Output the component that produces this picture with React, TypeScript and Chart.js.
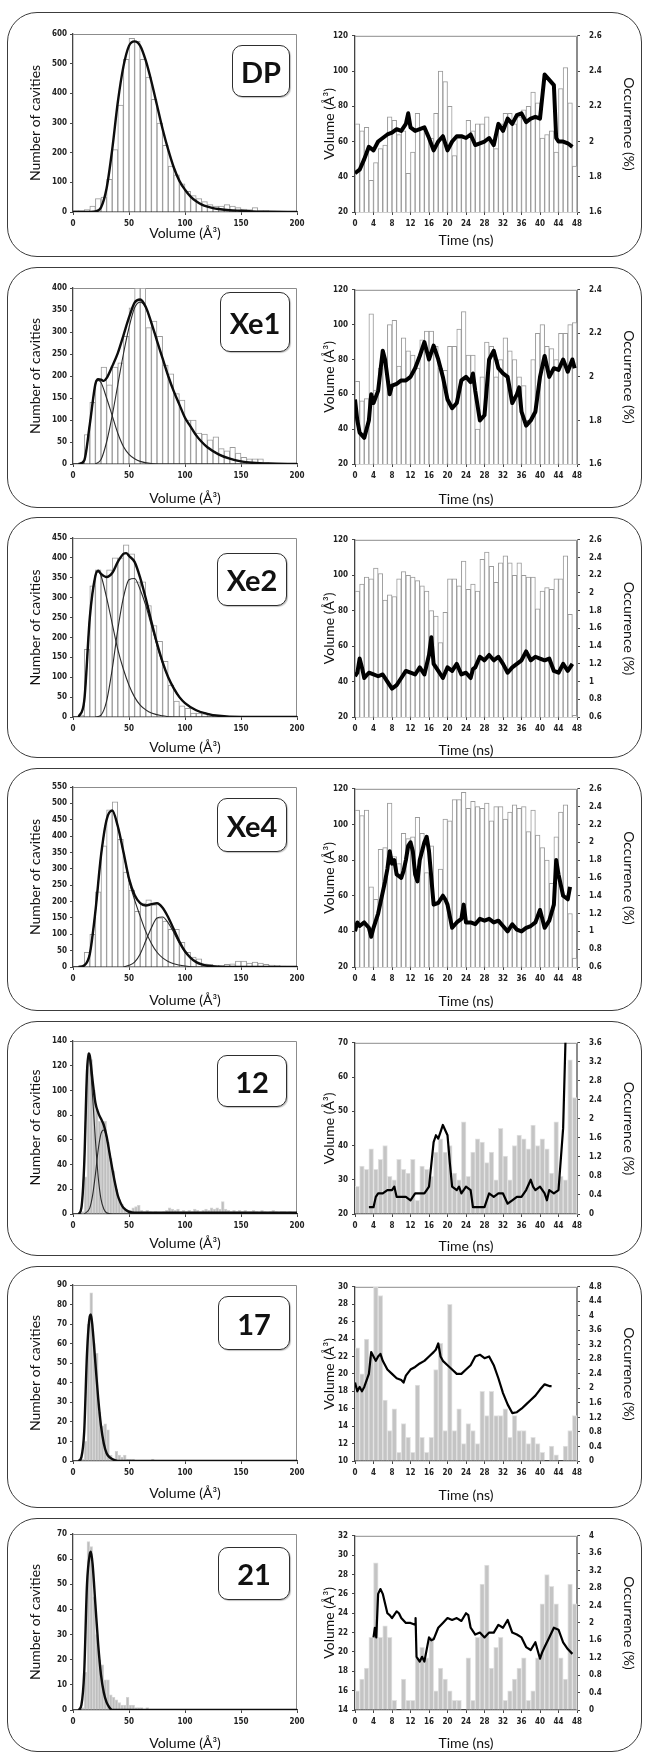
import React, { useEffect, useRef } from "react";
import { Chart, registerables } from "chart.js";
Chart.register(...registerables);

// ---------------- categories ----------------
const BINS_5 = [2.5, 7.5, 12.5, 17.5, 22.5, 27.5, 32.5, 37.5, 42.5, 47.5, 52.5, 57.5, 62.5, 67.5, 72.5, 77.5, 82.5, 87.5, 92.5, 97.5, 102.5, 107.5, 112.5, 117.5, 122.5, 127.5, 132.5, 137.5, 142.5, 147.5, 152.5, 157.5, 162.5, 167.5, 172.5, 177.5, 182.5, 187.5, 192.5, 197.5];
const BINS_2_5 = [1.25, 3.75, 6.25, 8.75, 11.25, 13.75, 16.25, 18.75, 21.25, 23.75, 26.25, 28.75, 31.25, 33.75, 36.25, 38.75, 41.25, 43.75, 46.25, 48.75, 51.25, 53.75, 56.25, 58.75, 61.25, 63.75, 66.25, 68.75, 71.25, 73.75, 76.25, 78.75, 81.25, 83.75, 86.25, 88.75, 91.25, 93.75, 96.25, 98.75, 101.25, 103.75, 106.25, 108.75, 111.25, 113.75, 116.25, 118.75, 121.25, 123.75, 126.25, 128.75, 131.25, 133.75, 136.25, 138.75, 141.25, 143.75, 146.25, 148.75, 151.25, 153.75, 156.25, 158.75, 161.25, 163.75, 166.25, 168.75, 171.25, 173.75, 176.25, 178.75, 181.25, 183.75, 186.25, 188.75, 191.25, 193.75, 196.25, 198.75];
const TIME_BINS = [0.5, 1.5, 2.5, 3.5, 4.5, 5.5, 6.5, 7.5, 8.5, 9.5, 10.5, 11.5, 12.5, 13.5, 14.5, 15.5, 16.5, 17.5, 18.5, 19.5, 20.5, 21.5, 22.5, 23.5, 24.5, 25.5, 26.5, 27.5, 28.5, 29.5, 30.5, 31.5, 32.5, 33.5, 34.5, 35.5, 36.5, 37.5, 38.5, 39.5, 40.5, 41.5, 42.5, 43.5, 44.5, 45.5, 46.5, 47.5];

// ---------------- DP ----------------
const DP_HIST = [5, 5, 8, 20, 45, 50, 110, 210, 360, 515, 585, 575, 515, 455, 380, 300, 225, 155, 125, 95, 70, 55, 45, 35, 25, 20, 20, 25, 20, 15, 10, 8, 15, 5, 5, 3, 3, 2, 2, 2];
const DP_FIT_X = [0, 10, 20, 25, 30, 35, 40, 45, 50, 55, 60, 65, 70, 75, 80, 85, 90, 95, 100, 105, 110, 115, 120, 125, 130, 140, 150, 160, 175, 200];
const DP_FIT_Y = [0, 0, 2, 15, 80, 210, 370, 490, 560, 575, 560, 510, 440, 360, 280, 210, 150, 105, 75, 52, 36, 25, 18, 13, 10, 6, 4, 2, 1, 0];
const DP_OCC = [2.1, 2.06, 2.08, 1.78, 1.88, 1.96, 1.98, 2.14, 2.12, 2.04, 2.06, 1.82, 1.94, 2.16, 2.08, 2.05, 2.02, 2.16, 2.4, 2.34, 2.2, 1.92, 2.02, 2.02, 2.12, 2.06, 2.1, 2.1, 2.14, 2.0, 1.96, 2.1, 2.16, 2.16, 2.1, 2.14, 2.18, 2.2, 2.28, 2.22, 2.02, 2.04, 2.06, 1.94, 2.3, 2.42, 2.22, 1.86];
const DP_T = [0, 1, 2, 3, 4, 5, 6, 7, 8, 9, 10, 11, 11.5, 12, 13, 14, 15, 16, 17, 18, 19, 20, 21, 22, 23, 24, 25, 26, 27, 28, 29, 30, 31, 32, 33, 34, 35, 36, 37, 38, 39, 40, 41, 42, 43, 43.5, 44, 45, 46, 47];
const DP_V = [42, 44, 50, 57, 55, 60, 62, 64, 65, 67, 66, 70, 76, 68, 66, 67, 68, 62, 55, 60, 63, 55, 60, 63, 63, 62, 64, 58, 59, 60, 62, 58, 70, 66, 73, 70, 75, 76, 71, 73, 74, 73, 98, 95, 92, 62, 60, 60, 59, 57];

// ---------------- Xe1 ----------------
const XE1_HIST = [0, 0, 67, 140, 190, 220, 180, 220, 230, 290, 355, 400, 400, 310, 325, 290, 225, 205, 160, 145, 100, 100, 70, 68, 55, 62, 35, 30, 38, 25, 15, 12, 12, 12, 3, 1, 1, 1, 1, 1];
const XE1_C1_X = [5, 10, 15, 20, 22.5, 25, 30, 35, 40, 45, 50, 55, 60, 70, 80, 200];
const XE1_C1_Y = [0, 8, 90, 180, 190, 185, 150, 110, 70, 40, 22, 12, 6, 1, 0, 0];
const XE1_C2_X = [20, 25, 30, 35, 40, 45, 50, 55, 60, 65, 70, 75, 80, 85, 90, 95, 100, 105, 110, 115, 120, 130, 140, 150, 160, 175, 200];
const XE1_C2_Y = [0, 10, 50, 110, 180, 250, 310, 355, 368, 355, 320, 280, 240, 200, 165, 135, 105, 85, 65, 50, 38, 22, 12, 6, 3, 1, 0];
const XE1_T_X = [5, 10, 15, 20, 22.5, 25, 27.5, 30, 35, 40, 45, 50, 55, 60, 65, 70, 75, 80, 85, 90, 95, 100, 105, 110, 115, 120, 130, 140, 150, 160, 175, 200];
const XE1_T_Y = [0, 8, 90, 182, 193, 192, 189, 195, 222, 252, 292, 333, 367, 374, 357, 321, 280, 240, 200, 165, 135, 105, 85, 65, 50, 38, 22, 12, 6, 3, 1, 0];
const XE1_OCC = [1.98, 1.89, 1.9, 2.29, 1.94, 2.04, 2.08, 2.24, 2.26, 2.05, 2.18, 2.12, 2.1, 2.04, 2.17, 2.21, 2.21, 2.14, 2.04, 2.03, 2.14, 2.14, 2.22, 2.3, 2.1, 2.1, 1.76, 2.0, 2.16, 2.14, 2.0, 2.08, 2.18, 2.12, 2.08, 2.0, 1.96, 1.8, 2.08, 2.2, 2.24, 2.14, 2.13, 2.08, 2.2, 2.2, 2.24, 2.25];
const XE1_T = [0, 0.5, 1, 2, 3, 3.5, 4, 5, 6, 6.5, 7, 7.5, 8, 9, 10, 11, 12, 13, 14, 15, 16, 17, 18, 19, 20, 21, 22, 23, 24, 25, 25.5, 26, 27, 28, 29, 30, 31, 32, 33, 34, 35, 35.5, 36, 37, 38, 39, 40, 41, 42, 43, 44, 45, 46, 47, 47.5];
const XE1_V = [57, 45, 38, 35, 45, 60, 55, 62, 85, 80, 70, 60, 65, 66, 68, 68, 70, 75, 82, 90, 80, 88, 80, 70, 57, 52, 55, 68, 70, 67, 72, 62, 45, 48, 80, 85, 75, 72, 70, 55, 60, 64, 50, 42, 45, 50, 70, 82, 70, 75, 74, 80, 73, 80, 75];

// ---------------- Xe2 ----------------
const XE2_HIST = [0, 5, 170, 330, 370, 355, 370, 400, 400, 433, 410, 340, 340, 280, 230, 190, 140, 80, 40, 28, 22, 10, 10, 8, 5, 3, 0, 0, 0, 0, 0, 0, 0, 0, 0, 0, 0, 0, 0, 0];
const XE2_C1_X = [5, 10, 15, 20, 22.5, 25, 30, 35, 40, 45, 50, 55, 60, 65, 70, 80, 90, 200];
const XE2_C1_Y = [0, 40, 250, 355, 365, 355, 300, 235, 170, 120, 80, 50, 30, 18, 10, 3, 0, 0];
const XE2_C2_X = [20, 25, 30, 35, 40, 45, 50, 55, 60, 65, 70, 75, 80, 85, 90, 95, 100, 110, 120, 130, 150, 200];
const XE2_C2_Y = [0, 5, 40, 120, 220, 300, 345, 348, 320, 280, 230, 180, 135, 100, 72, 50, 35, 17, 8, 3, 0, 0];
const XE2_T_X = [5, 10, 15, 20, 22.5, 25, 30, 35, 40, 45, 47.5, 50, 55, 60, 65, 70, 75, 80, 85, 90, 95, 100, 110, 120, 130, 150, 200];
const XE2_T_Y = [0, 40, 250, 355, 368, 360, 352, 362, 390, 410, 412, 405, 390, 350, 298, 240, 185, 138, 100, 72, 50, 35, 17, 8, 3, 0, 0];
const XE2_OCC = [2.02, 2.1, 2.18, 2.16, 2.28, 2.22, 1.92, 1.98, 1.96, 2.16, 2.24, 2.2, 2.18, 2.14, 2.08, 2.02, 1.8, 1.74, 1.44, 1.78, 2.16, 2.16, 2.08, 2.36, 2.04, 2.1, 2.02, 2.38, 2.46, 2.3, 2.12, 2.34, 2.42, 2.34, 2.2, 2.34, 2.2, 2.18, 2.18, 1.82, 2.02, 2.06, 2.04, 2.16, 2.16, 2.42, 1.76, 0.62];
const XE2_T = [0, 0.5, 1, 1.5, 2, 3, 4, 5, 6, 7, 8, 9, 10, 11, 12, 13, 14, 15, 16, 16.5, 17, 18, 19, 20, 21, 22, 23, 24, 25, 25.5, 26, 27, 28, 29, 30, 31, 32, 33, 34, 35, 36, 37, 38, 39, 40, 41, 42, 43, 44, 45, 46, 47];
const XE2_V = [43, 45, 53, 48, 42, 45, 44, 43, 44, 40, 36, 38, 42, 46, 45, 44, 48, 44, 55, 65, 50, 46, 42, 48, 46, 50, 44, 45, 42, 47, 48, 54, 52, 55, 52, 54, 50, 45, 48, 50, 52, 57, 52, 54, 53, 52, 53, 46, 45, 50, 46, 50];

// ---------------- Xe4 ----------------
const XE4_HIST = [0, 0, 45, 100, 230, 370, 480, 505, 390, 290, 235, 170, 195, 205, 190, 150, 140, 115, 115, 75, 45, 30, 25, 10, 8, 5, 5, 8, 10, 18, 18, 12, 15, 12, 8, 6, 5, 3, 1, 1];
const XE4_C1_X = [5, 10, 15, 20, 25, 30, 35, 40, 45, 50, 55, 60, 65, 70, 75, 80, 85, 90, 100, 110, 200];
const XE4_C1_Y = [0, 5, 40, 170, 340, 450, 478, 430, 350, 265, 205, 155, 108, 72, 45, 28, 17, 10, 3, 0, 0];
const XE4_C2_X = [45, 50, 55, 60, 65, 70, 75, 80, 85, 90, 95, 100, 105, 110, 115, 120, 130, 140, 200];
const XE4_C2_Y = [0, 5, 15, 40, 80, 120, 150, 153, 135, 105, 72, 45, 27, 15, 8, 4, 1, 0, 0];
const XE4_T_X = [5, 10, 15, 20, 25, 30, 35, 40, 45, 50, 55, 60, 65, 70, 75, 80, 85, 90, 95, 100, 105, 110, 115, 120, 130, 140, 200];
const XE4_T_Y = [0, 5, 40, 170, 340, 450, 478, 430, 352, 270, 220, 195, 188, 192, 195, 181, 152, 115, 78, 48, 28, 15, 8, 4, 1, 0, 0];
const XE4_OCC = [2.36, 2.3, 2.36, 1.5, 1.36, 1.92, 1.94, 2.44, 1.84, 1.76, 2.1, 2.04, 2.06, 2.28, 2.1, 1.66, 1.96, 1.3, 1.7, 2.26, 2.24, 2.48, 2.48, 2.56, 2.38, 2.46, 2.4, 2.38, 2.44, 2.24, 2.4, 2.4, 2.26, 2.34, 2.42, 2.38, 2.4, 2.12, 2.36, 2.08, 1.94, 1.8, 1.54, 2.06, 2.34, 2.42, 1.2, 0.7];
const XE4_T = [0, 0.5, 1, 2, 3, 3.5, 4, 5, 6, 6.5, 7, 7.5, 8, 8.5, 9, 10, 10.5, 11, 11.5, 12, 12.5, 13, 13.5, 14, 15, 15.5, 16, 16.5, 17, 18, 19, 19.5, 20, 21, 22, 23, 23.5, 24, 25, 26, 27, 28, 29, 30, 31, 32, 33, 34, 35, 36, 37, 38, 39, 40, 41, 42, 43, 43.5, 44, 45, 46, 46.5];
const XE4_V = [40, 45, 43, 45, 42, 37, 42, 50, 62, 68, 75, 85, 78, 80, 72, 70, 74, 80, 88, 90, 85, 72, 68, 80, 90, 93, 85, 70, 55, 56, 60, 58, 55, 42, 45, 47, 55, 45, 45, 44, 47, 46, 47, 45, 46, 43, 40, 44, 41, 40, 42, 43, 45, 52, 42, 46, 55, 80, 72, 60, 58, 65];

// ---------------- 12 ----------------
const S12_HIST = [0, 0, 0, 2, 30, 130, 125, 100, 85, 75, 75, 75, 58, 45, 35, 20, 12, 8, 5, 3, 3, 5, 6, 7, 3, 2, 3, 2, 1, 2, 1, 1, 2, 3, 5, 4, 3, 4, 2, 3, 2, 3, 2, 4, 3, 2, 3, 4, 3, 5, 4, 5, 4, 10, 4, 3, 2, 3, 2, 3, 2, 3, 2, 2, 3, 2, 1, 3, 2, 1, 2, 3, 2, 1, 2, 2, 1, 2, 1, 1];
const S12_C1_X = [5, 7.5, 10, 12.5, 14, 15, 17.5, 20, 22.5, 25, 27.5, 30, 35, 200];
const S12_C1_Y = [0, 5, 40, 115, 128, 125, 95, 60, 30, 12, 4, 1, 0, 0];
const S12_C2_X = [10, 15, 17.5, 20, 22.5, 25, 27.5, 30, 32.5, 35, 37.5, 40, 42.5, 45, 50, 55, 200];
const S12_C2_Y = [0, 5, 15, 32, 52, 65, 68, 62, 50, 37, 25, 15, 9, 5, 1, 0, 0];
const S12_T_X = [5, 7.5, 10, 12.5, 14, 15, 17.5, 20, 22.5, 25, 27.5, 30, 32.5, 35, 37.5, 40, 42.5, 45, 50, 55, 60, 100, 150, 200];
const S12_T_Y = [0, 5, 40, 115, 130, 128, 108, 90, 82, 77, 72, 63, 50, 37, 25, 15, 9, 5, 2, 1, 1, 1, 1, 1];
const S12_OCC = [0.58, 1.01, 0.94, 1.37, 0.94, 1.15, 1.44, 0.79, 0.72, 1.15, 0.94, 0.86, 1.15, 0.29, 1.01, 0.94, 0.79, 1.3, 1.58, 1.3, 1.44, 0.86, 0.72, 1.94, 0.79, 1.3, 1.58, 1.51, 1.08, 1.3, 0.72, 1.8, 1.22, 0.72, 1.44, 1.66, 1.58, 1.37, 1.87, 1.44, 1.58, 1.37, 0.86, 1.94, 0.79, 0.72, 3.24, 2.45];
const S12_T = [3, 4, 4.5, 5, 6, 7, 8, 8.5, 9, 10, 11, 12, 13, 14, 15, 15.5, 16, 17, 17.5, 18, 18.5, 19, 20, 20.5, 21, 22, 22.5, 23, 24, 25, 25.5, 26, 27, 28, 29, 30, 31, 32, 33, 34, 35, 36, 37, 38, 38.5, 39, 40, 41, 41.5, 42, 43, 44, 45, 45.5, 45.8];
const S12_V = [22, 22, 25, 26, 26, 27, 27, 28, 25, 25, 25, 24, 26, 26, 26, 27, 28, 41, 43, 42, 44, 46, 43, 35, 28, 27, 28, 26, 28, 27, 22, 22, 22, 22, 26, 25, 26, 26, 23, 24, 25, 25, 27, 30, 28, 27, 28, 26, 24, 27, 26, 27, 45, 70, 75];

// ---------------- 17 ----------------
const S17_HIST = [0, 0, 0, 1, 10, 70, 86, 60, 55, 25, 18, 19, 16, 3, 1, 5, 3, 2, 3, 1, 1, 1, 0, 0, 0, 0, 0, 0, 1, 0, 0, 0, 0, 0, 0, 0, 0, 0, 0, 0, 0, 0, 0, 0, 0, 0, 0, 0, 0, 0, 0, 0, 0, 0, 0, 0, 0, 0, 0, 0, 0, 0, 0, 0, 0, 0, 0, 0, 0, 0, 0, 0, 0, 0, 0, 0, 0, 0, 0, 0];
const S17_FIT_X = [5, 7.5, 10, 12.5, 15, 16, 17.5, 20, 22.5, 25, 27.5, 30, 32.5, 35, 40, 200];
const S17_FIT_Y = [0, 2, 15, 55, 74, 75, 68, 50, 32, 18, 9, 4, 2, 1, 0, 0];
const S17_OCC = [3.12, 2.4, 3.36, 2.88, 4.8, 4.56, 1.68, 0.84, 1.44, 0.24, 1.03, 0.65, 0.24, 2.09, 0.65, 0.24, 0.65, 2.52, 3.24, 0.84, 4.32, 0.84, 1.44, 0.48, 1.03, 0.84, 0.48, 1.92, 1.25, 1.92, 1.25, 1.25, 1.44, 0.65, 1.25, 0.84, 0.84, 0.48, 0.65, 0.48, 0.24, 0, 0.41, 0.17, 0, 0.41, 0.84, 1.25];
const S17_T = [0, 0.5, 1, 1.5, 2, 3, 3.5, 4, 4.5, 5, 5.5, 6, 7, 8, 9, 10, 10.5, 11, 12, 13, 14, 15, 16, 17, 17.5, 18, 18.5, 19, 20, 21, 22, 23, 24, 25, 26, 27, 28, 29, 30, 31, 32, 33, 34, 35, 36, 37, 38, 39, 40, 41, 42, 42.5];
const S17_V = [19, 18, 18.5, 18, 18.5, 20, 22.5, 22, 21.5, 22, 22.3, 21.5, 20.5, 20, 19.5, 19.3, 19, 19.8, 20.5, 20.8, 21.2, 21.5, 22, 22.5, 22.8, 23.5, 22, 21.5, 21, 20.5, 20, 20, 20.5, 21, 22, 22.2, 21.8, 22, 21, 19.5, 17.8, 16.5, 15.5, 15.6, 16, 16.5, 17, 17.5, 18.2, 18.8, 18.6, 18.6];

// ---------------- 21 ----------------
const S21_HIST = [0, 0, 0, 1, 15, 67, 65, 45, 30, 20, 18, 12, 12, 6, 5, 4, 3, 2, 2, 5, 2, 2, 1, 1, 1, 0, 1, 0, 0, 0, 0, 0, 0, 0, 0, 0, 0, 0, 0, 0, 0, 0, 0, 0, 0, 0, 0, 0, 0, 0, 0, 0, 0, 0, 0, 0, 0, 0, 0, 0, 0, 0, 0, 0, 0, 0, 0, 0, 0, 0, 0, 0, 0, 0, 0, 0, 0, 0, 0, 0];
const S21_FIT_X = [5, 7.5, 10, 12.5, 15, 16, 17.5, 20, 22.5, 25, 27.5, 30, 32.5, 35, 200];
const S21_FIT_Y = [0, 2, 15, 50, 62, 63, 58, 42, 26, 14, 7, 3, 1, 0, 0];
const S21_OCC = [0.44, 0.71, 0.96, 1.67, 3.38, 1.67, 1.93, 1.67, 0.22, 0, 0.71, 0.22, 0.22, 1.2, 1.44, 1.2, 1.67, 0.44, 0.96, 0.71, 0.44, 0.22, 0.22, 0, 1.2, 0.22, 1.67, 2.89, 3.33, 0.96, 1.44, 1.67, 0.22, 0.44, 0.71, 0.96, 1.2, 0.22, 0.44, 1.2, 2.44, 3.11, 2.84, 2.44, 1.2, 0.71, 2.89, 2.44];
const S21_T = [4, 4.3, 4.6, 5, 5.5, 6, 6.5, 7, 7.5, 8, 9, 9.5, 10, 11, 12, 13, 13.1, 13.3, 14, 14.5, 15, 16, 16.5, 17, 18, 19, 20, 21, 22, 23, 24, 24.5, 25, 26, 27, 28, 29, 30, 31, 32, 33, 34, 35, 36, 37, 38, 39, 40, 40.5, 41, 42, 43, 44, 45, 46, 47];
const S21_V = [21.5, 22.5, 21.5, 26, 26.5, 26, 25, 24, 23.8, 23.5, 24.2, 24, 23.5, 23, 23, 22.8, 23.5, 19.5, 19, 19.5, 19, 21.5, 21.2, 21.3, 22.5, 23, 23.5, 23.3, 23.5, 23.2, 24, 23.8, 22.5, 21.8, 22, 21.5, 22, 22, 22.8, 22.5, 23.3, 22, 21.8, 21.5, 20.5, 20.2, 21, 19.3, 20, 20.5, 21.5, 22.5, 22.3, 21, 20.3, 19.8];

// ---------------- labels ----------------
const LABELS = ["DP", "Xe1", "Xe2", "Xe4", "12", "17", "21"];

// ---------------- configuration ----------------
type Curve = { x: number[]; y: number[]; main: boolean };
type Layout = {
  boxTop: number; boxBottom: number; plotTop: number; plotBottom: number;
  titleL: number; titleR: number; lab: [number, number, number, number];
};
type Row = {
  label: string; L: Layout; gray: boolean;
  bins: number[]; hist: number[]; curves: Curve[]; yMax: number; yStep: number;
  occ: number[]; t: number[]; v: number[];
  vMin: number; vMax: number; vStep: number; oMin: number; oMax: number; oStep: number;
};

const ROWS: Row[] = [
  {
    label: LABELS[0], gray: false,
    L: { boxTop: 12, boxBottom: 257, plotTop: 34, plotBottom: 212, titleL: 233, titleR: 240, lab: [232, 45, 58, 52] },
    bins: BINS_5, hist: DP_HIST, curves: [{ x: DP_FIT_X, y: DP_FIT_Y, main: true }], yMax: 600, yStep: 100,
    occ: DP_OCC, t: DP_T, v: DP_V, vMin: 20, vMax: 120, vStep: 20, oMin: 1.6, oMax: 2.6, oStep: 0.2,
  },
  {
    label: LABELS[1], gray: false,
    L: { boxTop: 267, boxBottom: 508, plotTop: 288, plotBottom: 464, titleL: 498, titleR: 499, lab: [220, 292, 70, 60] },
    bins: BINS_5, hist: XE1_HIST,
    curves: [{ x: XE1_C1_X, y: XE1_C1_Y, main: false }, { x: XE1_C2_X, y: XE1_C2_Y, main: false }, { x: XE1_T_X, y: XE1_T_Y, main: true }],
    yMax: 400, yStep: 50,
    occ: XE1_OCC, t: XE1_T, v: XE1_V, vMin: 20, vMax: 120, vStep: 20, oMin: 1.6, oMax: 2.4, oStep: 0.2,
  },
  {
    label: LABELS[2], gray: false,
    L: { boxTop: 517, boxBottom: 758, plotTop: 538, plotBottom: 717, titleL: 747, titleR: 750, lab: [217, 553, 70, 53] },
    bins: BINS_5, hist: XE2_HIST,
    curves: [{ x: XE2_C1_X, y: XE2_C1_Y, main: false }, { x: XE2_C2_X, y: XE2_C2_Y, main: false }, { x: XE2_T_X, y: XE2_T_Y, main: true }],
    yMax: 450, yStep: 50,
    occ: XE2_OCC, t: XE2_T, v: XE2_V, vMin: 20, vMax: 120, vStep: 20, oMin: 0.6, oMax: 2.6, oStep: 0.2,
  },
  {
    label: LABELS[3], gray: false,
    L: { boxTop: 768, boxBottom: 1011, plotTop: 787, plotBottom: 967, titleL: 1000, titleR: 1001, lab: [217, 798, 70, 54] },
    bins: BINS_5, hist: XE4_HIST,
    curves: [{ x: XE4_C1_X, y: XE4_C1_Y, main: false }, { x: XE4_C2_X, y: XE4_C2_Y, main: false }, { x: XE4_T_X, y: XE4_T_Y, main: true }],
    yMax: 550, yStep: 50,
    occ: XE4_OCC, t: XE4_T, v: XE4_V, vMin: 20, vMax: 120, vStep: 20, oMin: 0.6, oMax: 2.6, oStep: 0.2,
  },
  {
    label: LABELS[4], gray: true,
    L: { boxTop: 1021, boxBottom: 1256, plotTop: 1041, plotBottom: 1214, titleL: 1243, titleR: 1246, lab: [217, 1055, 70, 52] },
    bins: BINS_2_5, hist: S12_HIST,
    curves: [{ x: S12_C1_X, y: S12_C1_Y, main: false }, { x: S12_C2_X, y: S12_C2_Y, main: false }, { x: S12_T_X, y: S12_T_Y, main: true }],
    yMax: 140, yStep: 20,
    occ: S12_OCC, t: S12_T, v: S12_V, vMin: 20, vMax: 70, vStep: 10, oMin: 0, oMax: 3.6, oStep: 0.4,
  },
  {
    label: LABELS[5], gray: true,
    L: { boxTop: 1266, boxBottom: 1508, plotTop: 1285, plotBottom: 1461, titleL: 1493, titleR: 1495, lab: [218, 1296, 72, 54] },
    bins: BINS_2_5, hist: S17_HIST, curves: [{ x: S17_FIT_X, y: S17_FIT_Y, main: true }],
    yMax: 90, yStep: 10,
    occ: S17_OCC, t: S17_T, v: S17_V, vMin: 10, vMax: 30, vStep: 2, oMin: 0, oMax: 4.8, oStep: 0.4,
  },
  {
    label: LABELS[6], gray: true,
    L: { boxTop: 1518, boxBottom: 1752, plotTop: 1534, plotBottom: 1710, titleL: 1743, titleR: 1743, lab: [218, 1547, 72, 53] },
    bins: BINS_2_5, hist: S21_HIST, curves: [{ x: S21_FIT_X, y: S21_FIT_Y, main: true }],
    yMax: 70, yStep: 10,
    occ: S21_OCC, t: S21_T, v: S21_V, vMin: 14, vMax: 32, vStep: 2, oMin: 0, oMax: 4, oStep: 0.4,
  },
];

// ---------------- styling helpers ----------------
const TICK_FONT = { family: '"Liberation Sans Narrow","DejaVu Sans Condensed","Liberation Sans",sans-serif', size: 8, weight: "bold" as const };
const TITLE_FONT = { family: 'Lato, "Open Sans", sans-serif', size: 14, lineHeight: 1.2 };
const AXIS_COLOR = "#444";
const fmt = (v: number) => String(Math.round(v * 10) / 10);
const pairs = (xs: number[], ys: number[]) => xs.map((x, i) => ({ x, y: ys[i] }));

const framePlugin = {
  id: "frame",
  beforeDatasetsDraw(chart: any) {
    const { ctx, chartArea: a } = chart;
    ctx.save();
    ctx.strokeStyle = "#8c8c8c";
    ctx.lineWidth = 1;
    ctx.beginPath();
    ctx.moveTo(a.left, a.top + 0.5);
    ctx.lineTo(a.right - 0.5, a.top + 0.5);
    ctx.lineTo(a.right - 0.5, a.bottom);
    ctx.stroke();
    ctx.restore();
  },
};

const axisGrid = { display: true, drawOnChartArea: false, drawTicks: true, tickLength: 3, color: AXIS_COLOR, offset: false };
const axisBorder = { display: true, color: AXIS_COLOR, width: 1.3 };

const LEFT_CANVAS_X = 20;
const LEFT_CANVAS_W = 290;
const LEFT_PLOT_X0 = 73;
const LEFT_PLOT_X1 = 297;
const RIGHT_CANVAS_X = 312;
const RIGHT_CANVAS_W = 333;
const RIGHT_PLOT_X0 = 355;
const RIGHT_PLOT_X1 = 577;

function HistChart({ row }: { row: Row }) {
  const ref = useRef<HTMLCanvasElement>(null);
  const L = row.L;
  const top = L.plotTop - 12;
  const bottom = L.titleL + 10;
  const h = bottom - top;
  useEffect(() => {
    const chart = new Chart(ref.current as HTMLCanvasElement, {
      type: "bar",
      data: {
        datasets: [
          ...row.curves.map((c) => ({
            type: "line" as const,
            data: pairs(c.x, c.y),
            borderColor: c.main ? "#0d0d0d" : "#2a2a2a",
            borderWidth: c.main ? 2.4 : 1.1,
            pointRadius: 0,
            cubicInterpolationMode: "monotone" as const,
            order: c.main ? 0 : 1,
          })),
          {
            type: "bar" as const,
            data: pairs(row.bins, row.hist),
            backgroundColor: row.gray ? "#bdbdbd" : "#ffffff",
            borderColor: row.gray ? "#d4d4d4" : "#9a9a9a",
            borderWidth: 1,
            barPercentage: 1,
            categoryPercentage: 1,
            order: 3,
          },
        ],
      } as any,
      options: {
        animation: false,
        responsive: false,
        devicePixelRatio: 1,
        events: [],
        layout: { padding: { top: 12, right: LEFT_CANVAS_X + LEFT_CANVAS_W - LEFT_PLOT_X1, left: 0, bottom: 0 } },
        plugins: { legend: { display: false }, tooltip: { enabled: false } },
        scales: {
          x: {
            type: "linear", min: 0, max: 200, offset: false,
            afterFit: (s: any) => { s.height = bottom - L.plotBottom; },
            ticks: { stepSize: 50, font: TICK_FONT, color: "#222", padding: 4, autoSkip: false, maxRotation: 0 },
            grid: axisGrid, border: axisBorder,
            title: { display: true, text: "Volume (Å³)", font: TITLE_FONT, color: "#111", padding: { top: 0, bottom: 1.6 } },
          },
          y: {
            type: "linear", min: 0, max: row.yMax,
            afterFit: (s: any) => { s.width = LEFT_PLOT_X0 - LEFT_CANVAS_X; },
            ticks: { stepSize: row.yStep, font: TICK_FONT, color: "#222", padding: 3, autoSkip: false },
            grid: axisGrid, border: axisBorder,
            title: { display: true, text: "Number of cavities", font: TITLE_FONT, color: "#111", padding: { top: 6.6, bottom: 0 } },
          },
        },
      } as any,
      plugins: [framePlugin],
    });
    return () => chart.destroy();
  }, []);
  return (
    <canvas
      ref={ref}
      width={LEFT_CANVAS_W}
      height={h}
      style={{ position: "absolute", left: LEFT_CANVAS_X, top, width: LEFT_CANVAS_W, height: h }}
    />
  );
}

function TimeChart({ row }: { row: Row }) {
  const ref = useRef<HTMLCanvasElement>(null);
  const L = row.L;
  const top = L.plotTop - 12;
  const bottom = L.titleR + 10;
  const h = bottom - top;
  useEffect(() => {
    const chart = new Chart(ref.current as HTMLCanvasElement, {
      type: "bar",
      data: {
        datasets: [
          {
            type: "line" as const,
            data: pairs(row.t, row.v),
            yAxisID: "y",
            borderColor: "#000",
            borderWidth: row.gray ? 2.2 : 4,
            borderJoinStyle: "round",
            pointRadius: 0,
            tension: 0,
            order: 0,
          },
          {
            type: "bar" as const,
            data: pairs(TIME_BINS, row.occ),
            yAxisID: "y2",
            backgroundColor: row.gray ? "#c4c4c4" : "#ffffff",
            borderColor: row.gray ? "#e2e2e2" : "#9a9a9a",
            borderWidth: 1,
            barPercentage: 1,
            categoryPercentage: 1,
            order: 2,
          },
        ],
      } as any,
      options: {
        animation: false,
        responsive: false,
        devicePixelRatio: 1,
        events: [],
        layout: { padding: { top: 12, right: 0, left: 0, bottom: 0 } },
        plugins: { legend: { display: false }, tooltip: { enabled: false } },
        scales: {
          x: {
            type: "linear", min: 0, max: 48, offset: false,
            afterFit: (s: any) => { s.height = bottom - L.plotBottom; },
            ticks: { stepSize: 4, font: TICK_FONT, color: "#222", padding: 4, autoSkip: false, maxRotation: 0 },
            grid: axisGrid, border: axisBorder,
            title: { display: true, text: "Time (ns)", font: TITLE_FONT, color: "#111", padding: { top: 0, bottom: 1.6 } },
          },
          y: {
            type: "linear", position: "left", min: row.vMin, max: row.vMax,
            afterFit: (s: any) => { s.width = RIGHT_PLOT_X0 - RIGHT_CANVAS_X; },
            ticks: { stepSize: row.vStep, font: TICK_FONT, color: "#222", padding: 4, autoSkip: false, callback: (v: any) => fmt(Number(v)) },
            grid: axisGrid, border: axisBorder,
            title: { display: true, text: "Volume (Å³)", font: TITLE_FONT, color: "#111", padding: { top: 8.6, bottom: 0 } },
          },
          y2: {
            type: "linear", position: "right", min: row.oMin, max: row.oMax,
            afterFit: (s: any) => { s.width = RIGHT_CANVAS_X + RIGHT_CANVAS_W - RIGHT_PLOT_X1; },
            ticks: { stepSize: row.oStep, font: TICK_FONT, color: "#222", padding: 9, autoSkip: false, callback: (v: any) => fmt(Number(v)) },
            grid: axisGrid, border: { display: true, color: "#8c8c8c", width: 1 },
            title: { display: true, text: "Occurrence (%)", font: TITLE_FONT, color: "#111", padding: { top: 7.6, bottom: 0 } },
          },
        },
      } as any,
      plugins: [framePlugin],
    });
    return () => chart.destroy();
  }, []);
  return (
    <canvas
      ref={ref}
      width={RIGHT_CANVAS_W}
      height={h}
      style={{ position: "absolute", left: RIGHT_CANVAS_X, top, width: RIGHT_CANVAS_W, height: h }}
    />
  );
}

export default function App() {
  return (
    <div style={{ position: "absolute", left: 0, top: 0, width: 645, height: 1757, background: "#ffffff", overflow: "hidden" }}>
      {ROWS.map((r, i) => (
        <React.Fragment key={i}>
          <div
            style={{
              position: "absolute", left: 7, top: r.L.boxTop, width: 635, height: r.L.boxBottom - r.L.boxTop,
              border: "1.5px solid #3c3c3c", borderRadius: 30, boxSizing: "border-box",
            }}
          />
          <HistChart row={r} />
          <TimeChart row={r} />
          <div
            style={{
              position: "absolute", left: r.L.lab[0], top: r.L.lab[1], width: r.L.lab[2], height: r.L.lab[3],
              border: "1.5px solid #2e2e2e", borderRadius: 10, boxSizing: "border-box", background: "#fff",
              display: "flex", alignItems: "center", justifyContent: "center",
              fontFamily: 'Lato, "Open Sans", sans-serif', fontWeight: 700, fontSize: 29, color: "#111",
              boxShadow: "1px 1px 1px rgba(0,0,0,0.25)",
            }}
          >
            {r.label}
          </div>
        </React.Fragment>
      ))}
    </div>
  );
}
